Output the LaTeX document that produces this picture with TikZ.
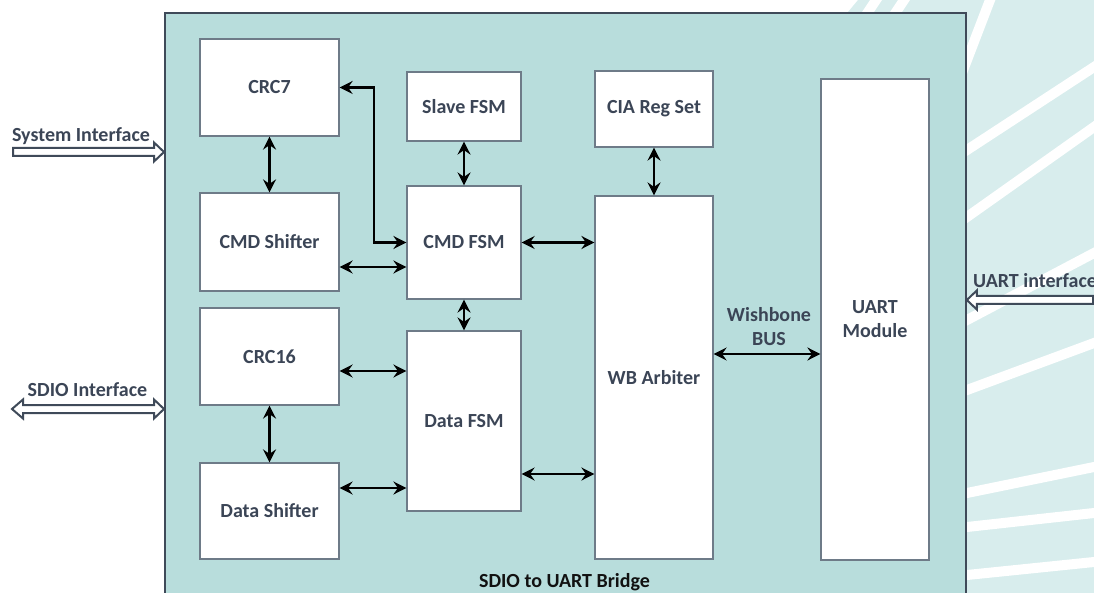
\documentclass[tikz,border=0pt]{standalone}
\usepackage{fontspec}
\setmainfont{Carlito}
\usepackage{tikz}
\usetikzlibrary{arrows.meta,calc}
\definecolor{bridgefill}{HTML}{B8DDDC}
\definecolor{bridgeline}{HTML}{3F4A59}
\definecolor{blkline}{HTML}{6E7B88}
\definecolor{labeltext}{HTML}{3B4556}
\definecolor{titletext}{HTML}{111111}
\definecolor{stripe}{HTML}{D8EDED}

\begin{document}
\begin{tikzpicture}[x=1pt,y=-1pt,
  >={Stealth[length=13pt,width=13pt,inset=4.5pt]},
  blk/.style={draw=blkline,fill=white,line width=1.2pt,text=labeltext,inner sep=0pt,
    align=center,font=\bfseries\fontsize{20}{24}\selectfont},
  dlink/.style={<->,line width=2.4pt},
  iface/.style={draw=bridgeline,fill=white,line width=2pt,line join=miter},
  lbl/.style={text=labeltext,inner sep=0pt,font=\bfseries\fontsize{20}{24}\selectfont}]
\useasboundingbox (0,0) rectangle (1094,593);

% background stripes
\begin{scope}
\clip (848,12) -- (858,0) -- (1094,0) -- (1094,593) -- (965,593) -- cycle;
\fill[stripe] (840,0) rectangle (1094,593);
\foreach \xa/\ya/\xb/\yb in {868/12/876/0,896/12/904/0,967/60/990/0,967/150/1094/67,
    967/217/1094/127,967/320/1094/253,967/390/1094/343,967/493/1094/467,
    967/527/1094/513,967/575/1094/562}
  \draw[white,line width=10pt] ($(\xa,\ya)!-2!(\xb,\yb)$) -- ($(\xa,\ya)!3!(\xb,\yb)$);
\end{scope}

% bridge
\node[draw=bridgeline,fill=bridgefill,line width=1.8pt,minimum width=801pt,minimum height=620pt,
  anchor=north west,inner sep=0pt] (bridge) at (164,12) {};
\node[lbl,text=titletext,anchor=base] (title) at (564.5,587) {SDIO to UART Bridge};

% blocks
\node[blk,minimum width=139pt,minimum height=97pt] (crc7) at (269.5,87.5) {CRC7};
\node[blk,minimum width=139pt,minimum height=98pt] (cmdshift) at (269.5,242) {CMD Shifter};
\node[blk,minimum width=139pt,minimum height=97pt] (crc16) at (269.5,356.5) {CRC16};
\node[blk,minimum width=139pt,minimum height=96pt] (datashift) at (269.5,511) {Data Shifter};
\node[blk,minimum width=114pt,minimum height=69pt] (slave) at (464,106.5) {Slave FSM};
\node[blk,minimum width=114pt,minimum height=113pt] (cmdfsm) at (464,242.5) {CMD FSM};
\node[blk,minimum width=114pt,minimum height=180pt] (datafsm) at (464,421) {Data FSM};
\node[blk,minimum width=118pt,minimum height=76pt] (cia) at (654,109) {CIA Reg Set};
\node[blk,minimum width=118pt,minimum height=363pt] (wb) at (654,377.5) {WB Arbiter};
\node[blk,minimum width=108pt,minimum height=481pt] (uart) at (875,319.5) {UART\\Module};

% connections
\coordinate (row1) at (0,267);
\coordinate (row2) at (0,371);
\coordinate (row3) at (0,474);
\coordinate (row4) at (0,488);
\coordinate (row5) at (0,354);
\coordinate (bend) at (374,0);
\draw[dlink] (crc7) -- (cmdshift);
\draw[dlink] (crc16) -- (datashift);
\draw[dlink] (slave) -- (cmdfsm);
\draw[dlink] (cmdfsm) -- (datafsm);
\draw[dlink] (cia) -- (wb);
\draw[dlink] (crc7.east) -| (bend |- cmdfsm.west) -- (cmdfsm.west);
\draw[dlink] (cmdshift.east |- row1) -- (cmdfsm.west |- row1);
\draw[dlink] (cmdfsm.east) -- (wb.west |- cmdfsm.east);
\draw[dlink] (crc16.east |- row2) -- (datafsm.west |- row2);
\draw[dlink] (datashift.east |- row4) -- (datafsm.west |- row4);
\draw[dlink] (datafsm.east |- row3) -- (wb.west |- row3);
\draw[dlink] (wb.east |- row5) -- (uart.west |- row5);
\node[lbl,align=center] (wbbus) at (769,326.5) {Wishbone\\BUS};

% interfaces
\coordinate (sysL) at (13,152);
\coordinate (sysR) at (bridge.west |- sysL);
\draw[iface] (sysR) -- +(-10,-9.5) -- +(-10,-4) -- ($(sysL)+(0,-4)$) -- ($(sysL)+(0,4)$)
  -- ($(sysR)+(-10,4)$) -- ($(sysR)+(-10,9.5)$) -- cycle;
\node[lbl,anchor=base] (syslbl) at (81,142) {System Interface};

\coordinate (sdioL) at (12,409);
\coordinate (sdioR) at (bridge.west |- sdioL);
\draw[iface] (sdioR) -- +(-10,-9.5) -- +(-10,-4) -- ($(sdioL)+(11,-4)$) -- ($(sdioL)+(11,-9.5)$)
  -- (sdioL) -- ($(sdioL)+(11,9.5)$) -- ($(sdioL)+(11,4)$) -- ($(sdioR)+(-10,4)$)
  -- ($(sdioR)+(-10,9.5)$) -- cycle;
\node[lbl,anchor=base] (sdiolbl) at (87.5,396) {SDIO Interface};

\coordinate (uartR) at (1093,300);
\coordinate (uartL) at (bridge.east |- uartR);
\draw[iface] (uartL) -- +(10,-9.5) -- +(10,-4) -- ($(uartR)+(0,-4)$) -- ($(uartR)+(0,4)$)
  -- ($(uartL)+(10,4)$) -- ($(uartL)+(10,9.5)$) -- cycle;
\node[lbl,anchor=base west] (uartlbl) at (973,288) {UART interface};
\end{tikzpicture}
\end{document}
